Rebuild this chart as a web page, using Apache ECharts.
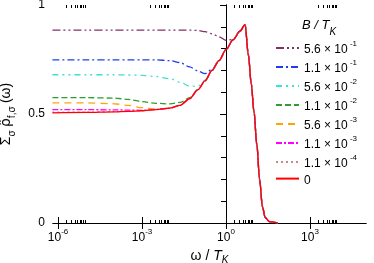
<!DOCTYPE html>
<html><head><meta charset="utf-8">
<script src="https://cdn.jsdelivr.net/npm/echarts@6/dist/echarts.min.js"></script>
<style>html,body{margin:0;padding:0;background:#fff}#c{width:374px;height:263px}</style>
</head><body><div id="c"></div>
<script>
// log10(omega / T_K) sample points
const logOmega = [-6.2, -5, -4, -3.5, -3, -2.5, -2, -1.64, -1.3, -1.0, -0.75, -0.5, -0.25, 0, 0.25, 0.5, 0.68, 0.8, 0.9, 1.0, 1.1, 1.2, 1.3, 1.4, 1.55, 1.85];
const b0      = [0.505,0.507,0.510,0.512,0.515,0.520,0.527,0.540,0.570,0.612,0.652,0.700,0.745,0.795,0.840,0.880,0.910,0.770,0.640,0.510,0.360,0.200,0.075,0.025,0.006,0.000];
const b11e4   = [0.508,0.508,0.511,0.512,0.515,0.520,0.527,0.540,0.570,0.612,0.652,0.700,0.745,0.795,0.840,0.880,0.910,0.770,0.640,0.510,0.360,0.200,0.075,0.025,0.006,0.000];
const b11e3   = [0.520,0.520,0.519,0.518,0.517,0.521,0.527,0.540,0.570,0.612,0.652,0.700,0.745,0.795,0.840,0.880,0.910,0.770,0.640,0.510,0.360,0.200,0.075,0.025,0.006,0.000];
const b56e3   = [0.551,0.551,0.547,0.540,0.529,0.522,0.527,0.540,0.570,0.612,0.652,0.700,0.745,0.795,0.840,0.880,0.910,0.770,0.640,0.510,0.360,0.200,0.075,0.025,0.006,0.000];
const b11e2   = [0.575,0.575,0.573,0.567,0.557,0.549,0.546,0.553,0.575,0.612,0.652,0.700,0.745,0.795,0.840,0.880,0.910,0.770,0.640,0.510,0.360,0.200,0.075,0.025,0.006,0.000];
const b56e2   = [0.680,0.680,0.680,0.679,0.677,0.672,0.662,0.645,0.628,0.627,0.655,0.700,0.745,0.795,0.840,0.880,0.910,0.770,0.640,0.510,0.360,0.200,0.075,0.025,0.006,0.000];
const b11e1   = [0.748,0.748,0.748,0.748,0.748,0.748,0.745,0.736,0.716,0.697,0.685,0.705,0.745,0.795,0.840,0.880,0.910,0.770,0.640,0.510,0.360,0.200,0.075,0.025,0.006,0.000];
const b56e1   = [0.885,0.885,0.885,0.885,0.885,0.885,0.885,0.885,0.885,0.883,0.878,0.868,0.854,0.838,0.842,0.880,0.910,0.770,0.640,0.510,0.360,0.200,0.075,0.025,0.006,0.000];

const seriesNames = ['5.6|-1','1.1|-1','5.6|-2','1.1|-2','5.6|-3','1.1|-3','1.1|-4','0'];
const seriesValues = [b56e1, b11e1, b56e2, b11e2, b56e3, b11e3, b11e4, b0];
const seriesColors = ['#82306a','#1f3cf0','#3fe0d0','#2e9e2e','#ffa500','#ff00ff','#c48a8a','#ff0000'];
const seriesDash = [[8,3,2,3,2,3],[7,3,2,3],[6,4,2,4,2,4],[6,3],[7,5],[6,2,2,2],[2,3],'solid'];

const xMajor = [-6, -3, 0, 3];
const xMinor = [];
xMajor.forEach(k => { for (let m = 2; m <= 9; m++) xMinor.push(k + Math.log10(m)); });
const yLabels = [0, 0.5, 1];

const FONT = 'Liberation Sans';
const black = '#000';

const supRich = {
  b: {fontSize: 12, fontFamily: FONT, color: black, lineHeight: 16, verticalAlign: 'bottom'},
  s: {fontSize: 8, fontFamily: FONT, color: black, lineHeight: 16, verticalAlign: 'top'}
};

const series = seriesNames.map((n, i) => ({
  name: n, type: 'line', xAxisIndex: 0, yAxisIndex: 0,
  data: logOmega.map((x, j) => [x, seriesValues[i][j]]),
  symbol: 'none', smooth: 0.3, smoothMonotone: 'x',
  lineStyle: {color: seriesColors[i], width: 1.3, type: seriesDash[i]},
  itemStyle: {color: seriesColors[i]},
  z: i === 7 ? 10 : 5
}));

const xCommon = {type: 'value', min: -6.18, max: 5.0, splitLine: {show: false}, gridIndex: 0};
const chart = echarts.init(document.getElementById('c'), null, {renderer: 'canvas'});
chart.setOption({
  animation: false,
  backgroundColor: '#fff',
  grid: {left: 53, right: 8, top: 5, bottom: 40, containLabel: false, outerBoundsMode: 'none'},
  title: {
    text: '{i|B / T}{k|K}', left: 297, top: 14,
    textStyle: {fontWeight: 'normal', rich: {
      i: {fontSize: 13, fontFamily: FONT, fontStyle: 'italic', fontWeight: 'normal', color: black, lineHeight: 18, verticalAlign: 'top'},
      k: {fontSize: 10, fontFamily: FONT, fontStyle: 'italic', fontWeight: 'normal', color: black, lineHeight: 18, verticalAlign: 'bottom'}
    }}
  },
  legend: {
    orient: 'vertical', left: 270, top: 35,
    itemWidth: 23, itemHeight: 14, itemGap: 3,
    itemStyle: {opacity: 0},
    data: seriesNames,
    formatter: n => { if (n === '0') return '{b|0}'; const p = n.split('|'); return '{b|' + p[0] + ' × 10}{s| ' + p[1] + '}'; },
    textStyle: {rich: supRich, padding: 0}
  },
  xAxis: [
    Object.assign({}, xCommon, {
      position: 'bottom',
      name: '{o|ω / }{i|T}{k|K}', nameLocation: 'middle', nameGap: 23,
      nameTextStyle: {rich: {
        o: {fontSize: 14, fontFamily: FONT, color: black, lineHeight: 16, verticalAlign: 'top'},
        i: {fontSize: 14, fontFamily: FONT, fontStyle: 'italic', color: black, lineHeight: 16, verticalAlign: 'top'},
        k: {fontSize: 10, fontFamily: FONT, fontStyle: 'italic', color: black, lineHeight: 16, verticalAlign: 'bottom'}
      }},
      axisLine: {lineStyle: {color: black, width: 1}},
      axisTick: {show: true, inside: true, length: 6, customValues: xMajor, lineStyle: {color: black}},
      axisLabel: {show: true, customValues: xMajor, margin: 5,
        formatter: v => '{b|10}{s|' + Math.round(v) + '}', rich: supRich}
    }),
    Object.assign({}, xCommon, {
      position: 'bottom', axisLine: {show: false},
      axisTick: {show: true, inside: true, length: 3, customValues: xMinor, lineStyle: {color: black}},
      axisLabel: {show: false}
    }),
    Object.assign({}, xCommon, {
      position: 'top', axisLine: {lineStyle: {color: black, width: 1}},
      axisTick: {show: true, inside: true, length: 6, customValues: xMajor, lineStyle: {color: black}},
      axisLabel: {show: false}
    }),
    Object.assign({}, xCommon, {
      position: 'top', axisLine: {show: false},
      axisTick: {show: true, inside: true, length: 3, customValues: xMinor, lineStyle: {color: black}},
      axisLabel: {show: false}
    })
  ],
  yAxis: [
    {
      type: 'value', min: 0, max: 1, interval: 0.1, position: 'left', splitLine: {show: false},
      name: '{a|Σ}{s|σ} {r|ρ̂}{s|f,σ} {a|(ω)}', nameLocation: 'middle', nameGap: 32, nameRotate: 90,
      nameTextStyle: {rich: {
        a: {fontSize: 14, fontFamily: FONT, color: black, lineHeight: 18, verticalAlign: 'top'},
        r: {fontSize: 14, fontFamily: 'DejaVu Sans', color: black, lineHeight: 18, verticalAlign: 'top'},
        s: {fontSize: 10, fontFamily: FONT, color: black, lineHeight: 18, verticalAlign: 'bottom'}
      }},
      axisLine: {show: true, lineStyle: {color: black, width: 1}},
      axisTick: {show: true, inside: false, length: 3, lineStyle: {color: black}},
      axisLabel: {show: true, customValues: yLabels, margin: 8, fontSize: 12, fontFamily: FONT, color: black,
        formatter: v => String(v)}
    },
    {
      type: 'value', min: 0, max: 1, position: 'left', splitLine: {show: false},
      axisLine: {show: false},
      axisTick: {show: true, inside: false, length: 6, customValues: yLabels, lineStyle: {color: black}},
      axisLabel: {show: false}
    },
    {
      type: 'value', min: 0, max: 1, interval: 0.1, position: 'right', splitLine: {show: false},
      axisLine: {show: true, lineStyle: {color: black, width: 1}},
      axisTick: {show: true, inside: true, length: 5, lineStyle: {color: black}},
      axisLabel: {show: false}
    }
  ],
  series: series
});
</script></body></html>
